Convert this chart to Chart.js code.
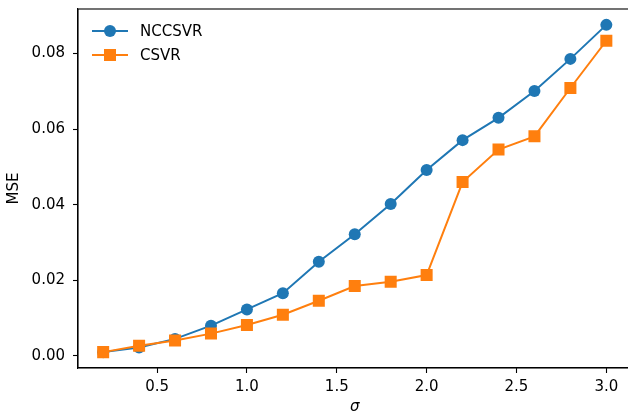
<!DOCTYPE html>
<html>
<head>
<meta charset="utf-8">
<script src="https://cdn.jsdelivr.net/npm/chart.js@4.4.1/dist/chart.umd.min.js"></script>
<style>
    html, body { margin: 0; padding: 0; background: #fff; overflow: hidden; }
    #wrap { width: 628px; height: 416px; overflow: hidden; }
</style>
</head>
<body>
<div id="wrap"><canvas id="mseChart" width="640" height="416"></canvas></div>
<script>
// ============================ data ==============================
const sigma = [0.2, 0.4, 0.6, 0.8, 1.0, 1.2, 1.4, 1.6, 1.8, 2.0, 2.2, 2.4, 2.6, 2.8, 3.0];
const nccsvr = [0.0010, 0.0022, 0.0045, 0.0080, 0.0123, 0.0166, 0.0249, 0.0322, 0.0402, 0.0492, 0.0571, 0.0630, 0.0701, 0.0786, 0.0876];
const csvr = [0.0010, 0.0027, 0.0041, 0.0059, 0.0082, 0.0109, 0.0146, 0.0185, 0.0196, 0.0214, 0.0460, 0.0546, 0.0581, 0.0709, 0.0834];
const xTicks = [0.5, 1.0, 1.5, 2.0, 2.5, 3.0];
const yTicks = [0.00, 0.02, 0.04, 0.06, 0.08];

const BLUE = '#1f77b4';
const ORANGE = '#ff7f0e';
const FONT = "'DejaVu Sans', sans-serif";

function toPoints(xs, ys) {
    return xs.map((x, i) => ({x: x, y: ys[i]}));
}

// ============================ plugins ==============================
// top / right spines
const frame = {
    id: 'frame',
    afterDraw(chart) {
        const {ctx, chartArea: a} = chart;
        ctx.save();
        ctx.strokeStyle = '#000';
        ctx.lineWidth = 1.1;
        ctx.strokeRect(a.left, a.top, a.right - a.left, a.bottom - a.top);
        ctx.restore();
    }
};

// legend inside the axes, upper left
const innerLegend = {
    id: 'innerLegend',
    afterDraw(chart) {
        const {ctx} = chart;
        const items = chart.data.datasets.map((ds, i) => ({ds: ds, y: 31 + i * 24}));
        ctx.save();
        items.forEach(it => {
            ctx.strokeStyle = it.ds.borderColor;
            ctx.lineWidth = 2;
            ctx.beginPath();
            ctx.moveTo(92, it.y);
            ctx.lineTo(128, it.y);
            ctx.stroke();
            ctx.fillStyle = it.ds.borderColor;
            Chart.helpers.drawPoint(ctx, {pointStyle: it.ds.pointStyle, radius: it.ds.pointRadius, borderWidth: 0}, 110, it.y);
            ctx.fillStyle = '#000';
            ctx.font = '15px ' + FONT;
            ctx.textBaseline = 'middle';
            ctx.textAlign = 'left';
            ctx.fillText(it.ds.label, 140, it.y + 1);
        });
        ctx.restore();
    }
};

// ============================ chart ==============================
const ctx = document.getElementById('mseChart').getContext('2d');
new Chart(ctx, {
    type: 'line',
    data: {
        datasets: [
            {
                label: 'NCCSVR',
                data: toPoints(sigma, nccsvr),
                borderColor: BLUE,
                backgroundColor: BLUE,
                pointBackgroundColor: BLUE,
                pointBorderWidth: 0,
                pointStyle: 'circle',
                pointRadius: 6,
                borderWidth: 2,
                tension: 0,
                order: 2
            },
            {
                label: 'CSVR',
                data: toPoints(sigma, csvr),
                borderColor: ORANGE,
                backgroundColor: ORANGE,
                pointBackgroundColor: ORANGE,
                pointBorderWidth: 0,
                pointStyle: 'rect',
                pointRadius: 8.5,
                borderWidth: 2,
                tension: 0,
                order: 1
            }
        ]
    },
    options: {
        responsive: false,
        animation: false,
        layout: {padding: {top: 9, right: 8, left: 0, bottom: 0}},
        plugins: {
            legend: {display: false},
            tooltip: {enabled: false}
        },
        scales: {
            x: {
                type: 'linear',
                min: 0.06,
                max: 3.14,
                afterBuildTicks: s => { s.ticks = xTicks.map(v => ({value: v})); },
                afterFit: s => { s.height = 48; s.paddingLeft = 0; s.paddingRight = 0; },
                ticks: {
                    color: '#000',
                    font: {family: FONT, size: 15},
                    padding: 5,
                    maxRotation: 0,
                    callback: v => v.toFixed(1)
                },
                grid: {display: true, drawOnChartArea: false, drawTicks: true, tickLength: 5, tickColor: '#000', tickWidth: 1.1},
                border: {display: true, color: '#000', width: 1.1},
                title: {display: true, text: 'σ', color: '#000', font: {family: FONT, size: 15, style: 'italic'}, padding: {top: 0, bottom: 0}}
            },
            y: {
                min: -0.0032,
                max: 0.0918,
                afterBuildTicks: s => { s.ticks = yTicks.map(v => ({value: v})); },
                afterFit: s => { s.width = 78; s.paddingTop = 0; s.paddingBottom = 0; },
                ticks: {
                    color: '#000',
                    font: {family: FONT, size: 15},
                    padding: 8,
                    callback: v => v.toFixed(2)
                },
                grid: {display: true, drawOnChartArea: false, drawTicks: true, tickLength: 5, tickColor: '#000', tickWidth: 1.1},
                border: {display: true, color: '#000', width: 1.1},
                title: {display: true, text: 'MSE', color: '#000', font: {family: FONT, size: 15}, padding: {top: 5, bottom: 0}}
            }
        }
    },
    plugins: [frame, innerLegend]
});
</script>
</body>
</html>
